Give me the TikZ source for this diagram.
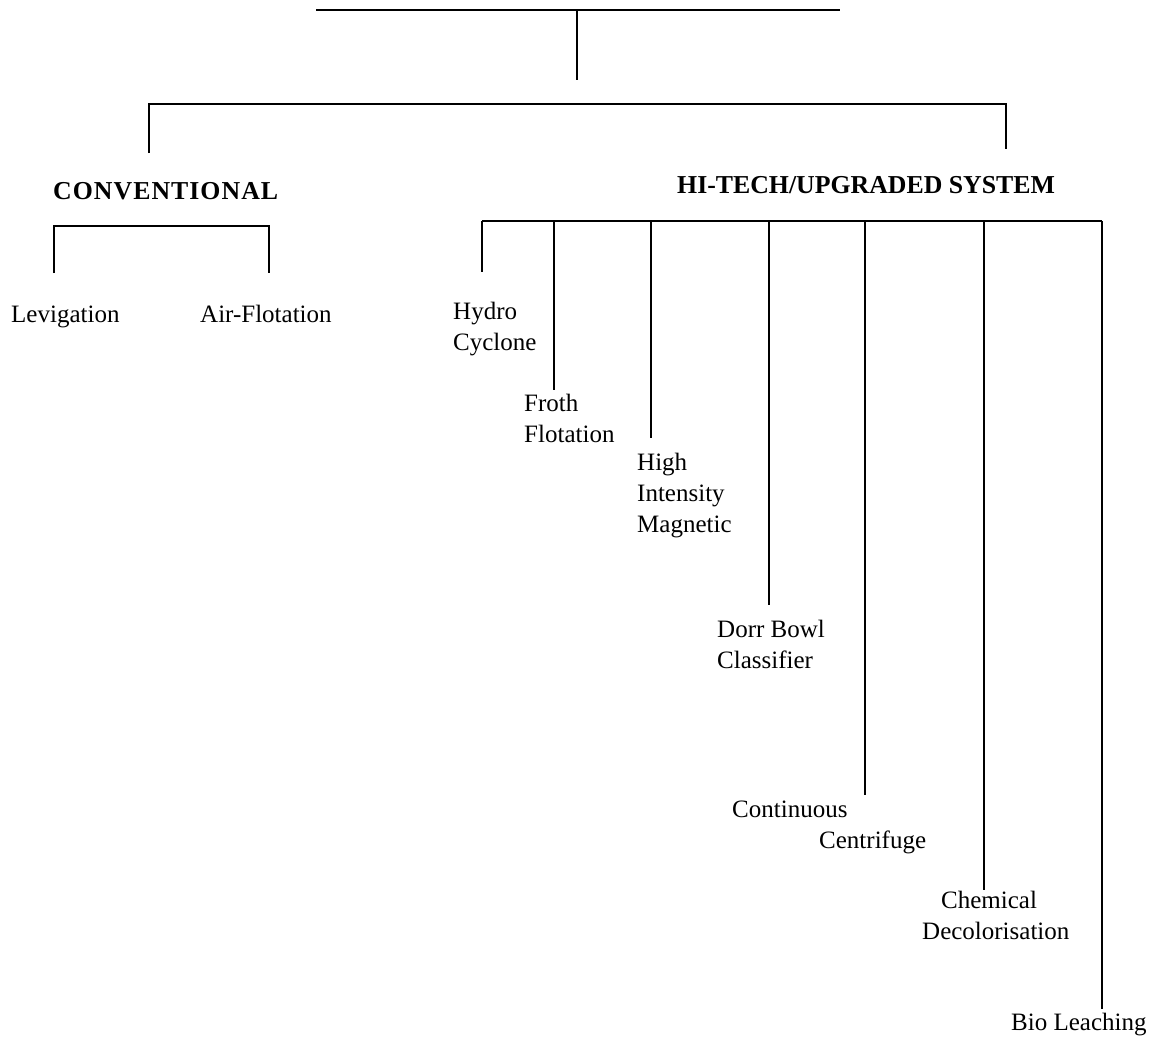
\documentclass[tikz,border=0pt]{standalone}
\usepackage{fontspec}
\setmainfont{Liberation Serif}
\usetikzlibrary{positioning}

\tikzset{
  lbl/.style={inner sep=0pt, align=left, font=\fontsize{25}{31}\selectfont},
  hd/.style={inner sep=0pt, font=\fontsize{25.8}{31}\selectfont\bfseries},
  ln/.style={line width=1.2pt}
}

\begin{document}
\begin{tikzpicture}[x=1pt,y=-1pt]
        \useasboundingbox (0,0) rectangle (1157,1037);

        % 顶部横线与主干
        \coordinate (topL) at (316,10);
        \coordinate (topR) at (840,10);
        \coordinate (root) at (577,10);
        \coordinate (rootEnd) at (577,80);
        \draw[ln] (topL) -- (topR);
        \draw[ln] (root) -- (rootEnd);

        % 第二层
        \coordinate (midL) at (149,104);
        \coordinate (midR) at (1006,104);
        \coordinate (convTip) at (149,153);
        \coordinate (hiTip) at (1006,149);
        \draw[ln] (convTip) -- (midL) -- (midR) -- (hiTip);

        \node[hd, anchor=base west] (conv) at (53,199) {\addfontfeature{LetterSpace=4}CONVENTIONAL};
        \node[hd, anchor=base west] (hitech) at (677,193) {HI-TECH/UPGRADED SYSTEM};

        % 传统方法
        \node[lbl, anchor=base west] (lev) at (11,322) {Levigation};
        \node[lbl, anchor=base west] (air) at (200,322) {Air-Flotation};
        \coordinate (cL) at (54,226);
        \coordinate (cR) at (269,226);
        \coordinate (levTip) at (54,273);
        \coordinate (airTip) at (269,273);
        \draw[ln] (levTip) -- (cL) -- (cR) -- (airTip);

        % 高新技术方法
        \node[lbl, anchor=north west] (hydro) at (453,302) {Hydro\\Cyclone};
        \node[lbl, anchor=north west] (froth) at (524,394) {Froth\\Flotation};
        \node[lbl, anchor=north west] (high) at (637,453) {High\\Intensity\\Magnetic};
        \node[lbl, anchor=north west] (dorr) at (717,620) {Dorr Bowl\\Classifier};
        \node[lbl, anchor=north west] (cont) at (732,801) {Continuous\\\hspace*{87pt}Centrifuge};
        \node[lbl, anchor=north west] (chem) at (922,891) {\hspace*{19pt}Chemical\\Decolorisation};
        \node[lbl, anchor=base west] (bio) at (1011,1030) {Bio Leaching};

        \coordinate (hL) at (482,221);
        \coordinate (hR) at (1102,221);
        \draw[ln] (hL) -- (hR);
        \foreach \x/\y/\n in {482/272/hydro, 554/390/froth, 651/438/high, 769/605/dorr,
                              865/795/cont, 984/890/chem, 1102/1009/bio}
        {
            \coordinate (\n Top) at (\x,221);
            \coordinate (\n Tip) at (\x,\y);
            \draw[ln] (\n Top) -- (\n Tip);
        }
    \end{tikzpicture}
\end{document}
